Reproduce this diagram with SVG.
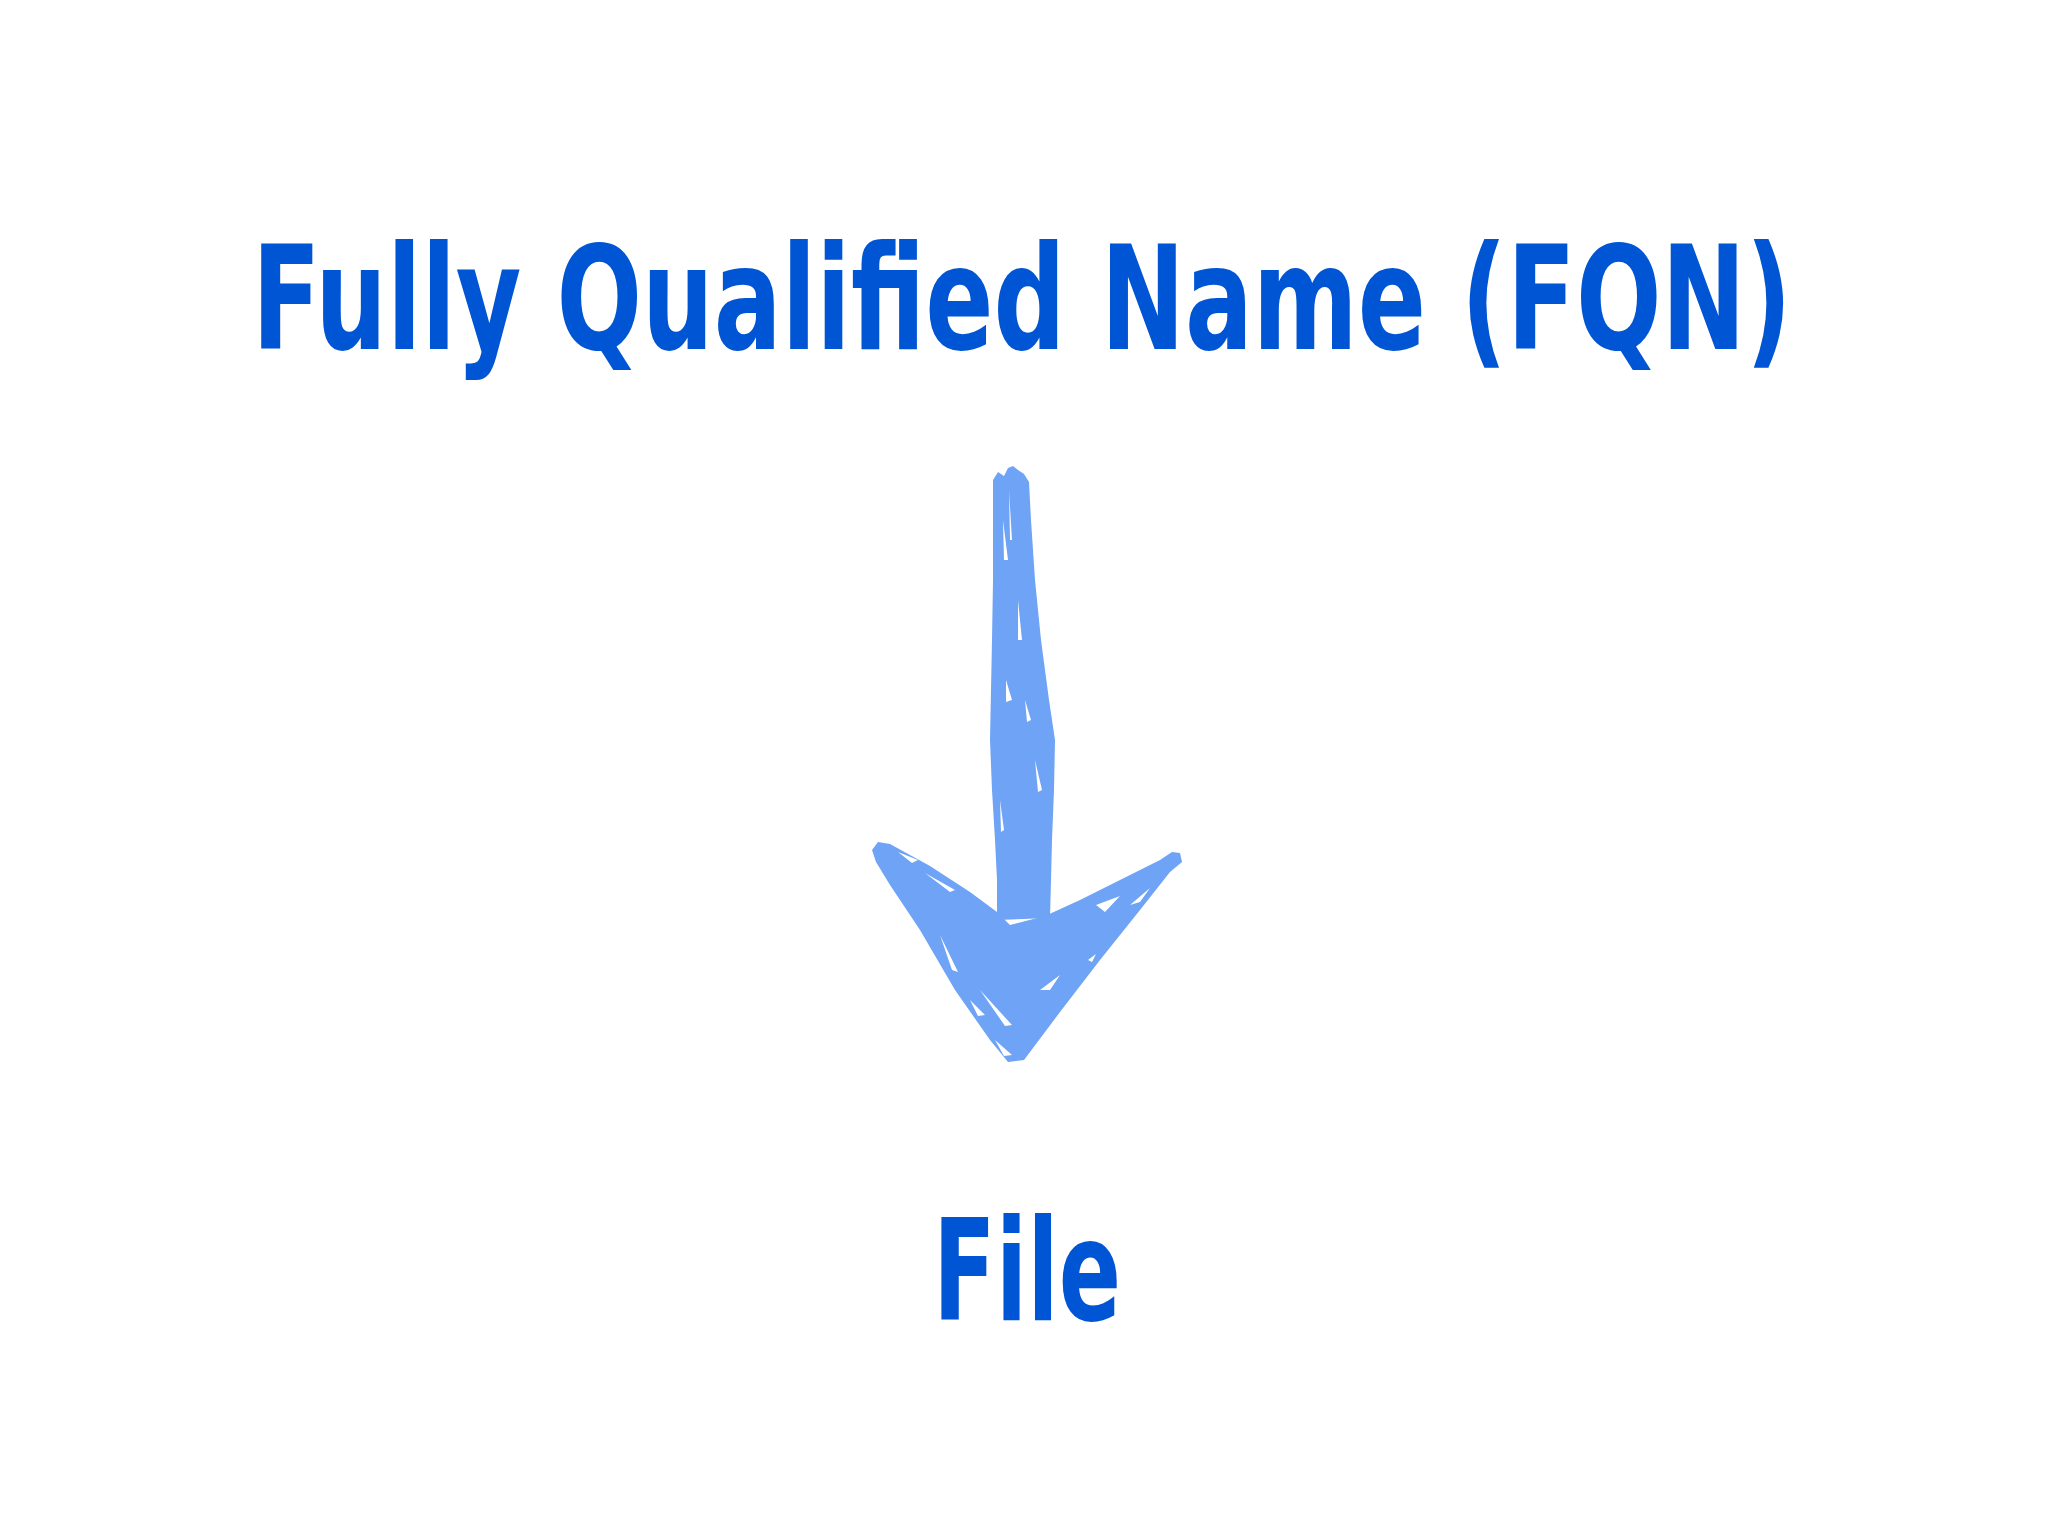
<svg xmlns="http://www.w3.org/2000/svg" width="2048" height="1536" viewBox="0 0 2048 1536">
  <style>
    .lbl { font-family: "DejaVu Sans Condensed", "DejaVu Sans", "Liberation Sans", sans-serif; font-weight: bold; fill: #0055d4; }
    .brush { fill: #6fa3f5; }
    .speck { fill: #ffffff; }
  </style>
  <rect width="2048" height="1536" fill="#ffffff"/>
  <g id="node-fqn">
    <text class="lbl" transform="translate(252,349) scale(0.75,1)" x="0" y="0" font-size="144" textLength="2053" lengthAdjust="spacingAndGlyphs">Fully Qualified Name (FQN)</text>
  </g>
  <g id="connectors">
    <g id="arrow">
      <path class="brush" d="M993,480 L998,472 L1004,476 L1008,468 L1013,466 L1018,470 L1024,474 L1029,482 L1031,520 L1035,580 L1041,640 L1049,700 L1055,740 L1054,790 L1052,840 L1051,880 L1050,918 L997,920 L997,880 L995,840 L992,790 L990,740 L991,690 L992,640 L993,580 L993,520 Z"/>
      <path class="brush" d="M872,850 L878,842 L890,844 L930,866 L970,892 L997,912 L1010,925 L1045,916 L1080,900 L1120,880 L1160,860 L1172,852 L1180,853 L1182,862 L1170,872 L1140,910 L1100,960 L1060,1012 L1024,1060 L1008,1062 L990,1040 L955,990 L920,930 L890,885 L876,862 Z"/>
      <path class="speck" d="M898,852 L918,860 L912,863 Z M925,873 L955,890 L950,892 Z M940,935 L958,972 L952,970 Z M980,990 L1012,1025 L1005,1026 Z M995,1040 L1012,1055 L1004,1056 Z M1096,905 L1120,896 L1105,912 Z M1130,905 L1150,888 L1140,902 Z M1088,960 L1096,954 L1092,962 Z M1009,490 L1012,540 L1010,540 Z M1003,520 L1008,560 L1004,560 Z M1018,600 L1022,640 L1018,640 Z M1006,680 L1012,700 L1006,702 Z M1025,700 L1031,720 L1027,722 Z M1035,760 L1042,790 L1038,792 Z M1000,800 L1004,830 L1001,832 Z M970,1000 L985,1015 L978,1016 Z M1040,990 L1060,975 L1050,990 Z"/>
    </g>
  </g>
  <g id="node-file">
    <text class="lbl" x="933" y="1320" font-size="140" textLength="188" lengthAdjust="spacingAndGlyphs">File</text>
  </g>
</svg>
